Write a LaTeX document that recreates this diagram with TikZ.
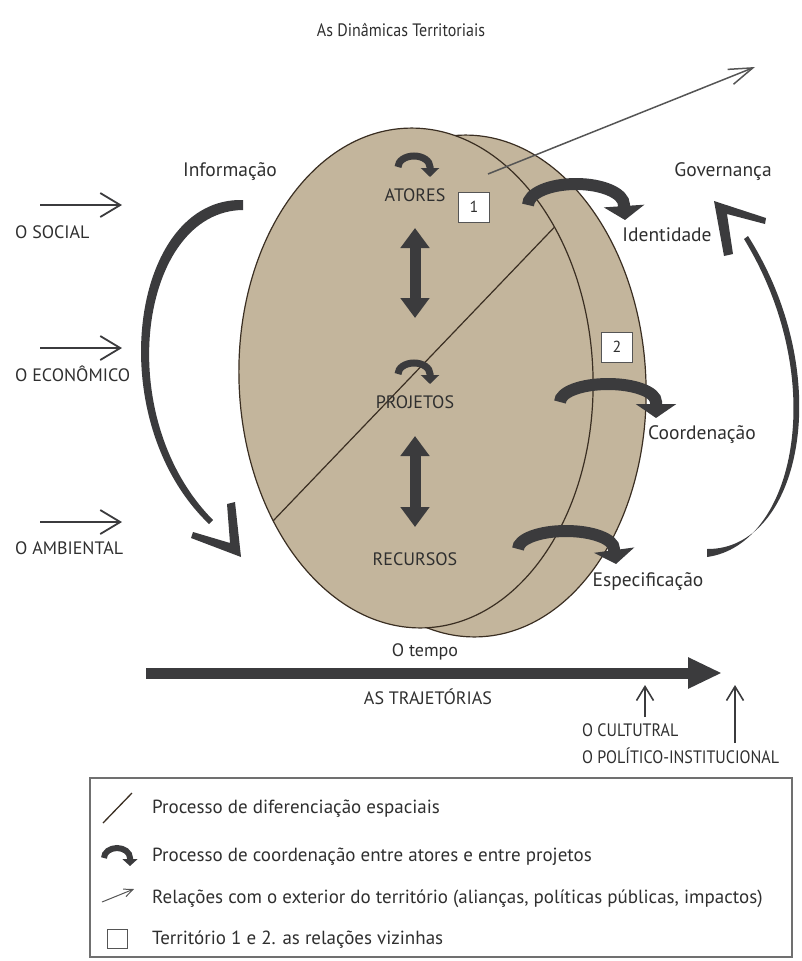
\documentclass[tikz,border=0pt]{standalone}
\usepackage{fontspec}
\setmainfont{PT Sans}
\newfontfamily\narrowsans{PT Sans}[FakeStretch=0.89]
\usetikzlibrary{arrows.meta,positioning,calc}
\definecolor{discfill}{HTML}{C3B59C}
\definecolor{discline}{HTML}{3A2E22}
\definecolor{darkarrow}{HTML}{3B3B3D}
\definecolor{labeltext}{HTML}{2F2F2F}
\definecolor{thinline}{HTML}{555555}
\definecolor{framegray}{HTML}{707070}

\begin{document}
\begin{tikzpicture}[x=1pt, y=-1pt,
  txt/.style={font=\fontsize{18}{21}\selectfont, text=labeltext, inner sep=0pt, text height=13pt, text depth=0pt},
  lctxt/.style={txt, font=\fontsize{19.5}{22}\selectfont},
  condtxt/.style={txt, font=\narrowsans\fontsize{18}{21}\selectfont},
  legtxt/.style={txt, font=\fontsize{19}{22}\selectfont, anchor=west},
  disc/.style={fill=discfill, draw=discline, line width=1.2pt},
  numbox/.style={draw=thinline, fill=white, line width=0.8pt, minimum width=31pt, minimum height=30pt, inner sep=0pt, font=\fontsize{16}{18}\selectfont, text=labeltext},
  swirl/.style={darkarrow, line width=7pt, -{Triangle[length=9pt,width=18pt]}},
  bigswirl/.style={darkarrow, line width=12pt, -{Triangle[length=14pt,width=40pt]}},
  dblarr/.style={darkarrow, line width=11pt, {Triangle[length=20pt,width=28pt]}-{Triangle[length=20pt,width=28pt]}},
  inarr/.style={darkarrow, line width=1.8pt, -{Straight Barb[length=20pt,width=24pt]}},
  uparr/.style={darkarrow, line width=1.6pt, -{Straight Barb[length=14pt,width=17pt]}},
  extarr/.style={thinline, line width=1.5pt, -{Straight Barb[length=24pt,width=16pt]}},
  timearr/.style={darkarrow, line width=11pt, -{Triangle[length=34pt,width=29pt]}}
]
\useasboundingbox (0,0) rectangle (801,961);

% title
\node[condtxt] (title) at (401,30) {As Dinâmicas Territoriais};

% the two discs (territories 1 and 2)
\draw[disc, rotate around={2:(470,386)}] (470,386) ellipse[x radius=176, y radius=251];
\draw[disc, rotate around={2:(416,378)}] (416,378) ellipse[x radius=177, y radius=250];
\begin{scope}
  \clip[rotate around={2:(416,378)}] (416,378) ellipse[x radius=177, y radius=250];
  \draw[discline, line width=1.2pt] (250,545) -- (590,190);
\end{scope}

% inside the disc
\node[txt] (atores) at (415,195) {ATORES};
\node[txt] (projetos) at (415,402) {PROJETOS};
\node[txt] (recursos) at (415,559) {RECURSOS};
\node[numbox] (box1) at (474,207) {1};
\node[numbox] (box2) at (617,347) {2};

\draw[swirl] ([xshift=-17pt,yshift=28pt]atores.center) arc[start angle=180, end angle=360, x radius=16, y radius=11] -- ++(0,10);
\draw[swirl] ([xshift=-17pt,yshift=28pt]projetos.center) arc[start angle=180, end angle=360, x radius=16, y radius=11] -- ++(0,10);
\draw[dblarr] ([yshift=-33pt]atores.center) -- ([yshift=84pt]projetos.center);
\draw[dblarr] ([yshift=-34pt]projetos.center) -- ([yshift=32pt]recursos.center);

% relation with the exterior
\coordinate (extfrom) at (488,174);
\coordinate (extto) at (755,67);
\draw[extarr] (extfrom) -- (extto);

% right side
\node[lctxt] (gov) at (723,170) {Governança};
\node[lctxt] (ident) at (667,235) {Identidade};
\node[lctxt] (coord) at (702,433) {Coordenação};
\node[lctxt] (espec) at (648,580) {Especificação};

\draw[bigswirl] (528,205) arc[start angle=180, end angle=360, x radius=48, y radius=21] -- ++(1,15);
\draw[bigswirl] (560,402) arc[start angle=180, end angle=360, x radius=48, y radius=18] -- ++(0,16);
\draw[bigswirl] (518,549) arc[start angle=180, end angle=360, x radius=48, y radius=18] -- ++(2,15);

% return loop to governance
\fill[darkarrow] (707,549) .. controls (800,550) and (838,378) .. (748,236)
  -- (744,239) .. controls (830,380) and (795,545) .. (707,557) -- cycle;
\fill[darkarrow] (714,201) -- (766,218) -- (765,224) -- (727,214) -- (733,254) -- (724,256) -- cycle;

% left side
\node[lctxt] (info) at (230,170) {Informação};
\node[txt, anchor=west] (social) at (15,232) {O SOCIAL};
\node[txt, anchor=west] (econ) at (15,375) {O ECONÔMICO};
\node[txt, anchor=west] (amb) at (15,548) {O AMBIENTAL};
\draw[inarr] ([xshift=25pt,yshift=27pt]social.west) -- ++(82,0);
\draw[inarr] ([xshift=25pt,yshift=27pt]econ.west) -- ++(82,0);
\draw[inarr] ([xshift=25pt,yshift=26pt]amb.west) -- ++(82,0);

\fill[darkarrow] (243,200) .. controls (130,197) and (100,420) .. (209,524)
  -- (213,520) .. controls (110,416) and (140,211) .. (243,210) -- cycle;
\fill[darkarrow] (241,557) -- (235,502) -- (227,504) -- (230,543) -- (193,532) -- (191,538) -- cycle;

% time
\coordinate (tstart) at (146,673);
\coordinate (tend) at (722,673);
\draw[timearr] (tstart) -- (tend);
\node[txt] (tempo) at (425,650) {O tempo};
\node[txt] (traj) at (428,698) {AS TRAJETÓRIAS};
\node[condtxt, anchor=west] (cult) at (582,730) {O CULTUTRAL};
\node[condtxt, anchor=west] (polit) at (582,757) {O POLÍTICO-INSTITUCIONAL};
\draw[uparr] ([xshift=63pt,yshift=13pt]cult.west) -- ++(0,-32);
\draw[uparr] ([xshift=153pt,yshift=14pt]polit.west) -- ++(0,-58);

% legend
\draw[framegray, line width=1.5pt] (90,778) rectangle (792,957);
\draw[discline, line width=1.3pt] (103,823) -- (132,793);
\draw[darkarrow, line width=6pt, -{Triangle[length=7pt,width=15pt]}] (104,858) arc[start angle=180, end angle=360, x radius=13, y radius=10] -- ++(0,8);
\draw[thinline, line width=1pt, -{Straight Barb[length=9pt,width=8pt]}] (102,902) -- (134,889);
\draw[thinline, line width=1pt] (107,929) rectangle (127,948);
\node[legtxt] (leg1) at (152,807) {Processo de diferenciação espaciais};
\node[legtxt] (leg2) at (152,855) {Processo de coordenação entre atores e entre projetos};
\node[legtxt] (leg3) at (152,897) {Relações com o exterior do território (alianças, políticas públicas, impactos)};
\node[legtxt] (leg4) at (152,938) {Território 1 e 2. as relações vizinhas};
\end{tikzpicture}
\end{document}
